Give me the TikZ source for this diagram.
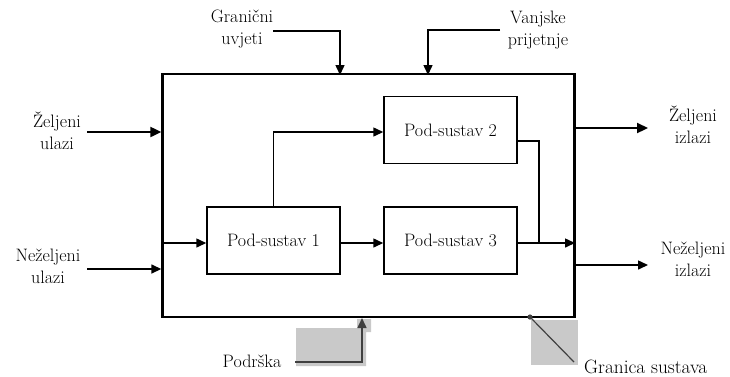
\documentclass[tikz,border=0pt]{standalone}
\usetikzlibrary{arrows.meta}
\begin{document}
\begin{tikzpicture}[x=1pt,y=-1pt,
  every node/.style={font=\fontsize{18}{22}\selectfont, inner sep=0pt},
  lbl/.style={align=center},
  subsys/.style={draw, line width=1.5pt, minimum width=133pt, minimum height=67pt},
  flow/.style={line width=1.5pt, -{Triangle[length=10pt,width=9pt]}},
  bigflow/.style={line width=2.2pt, -{Triangle[length=11pt,width=10pt]}},
  aux/.style={draw=black!75, line width=1.5pt},
  shade/.style={fill=black!21, draw=none}]
\useasboundingbox (0,0) rectangle (730,376);

% shaded backgrounds of the annotation arrows
\fill[shade] (296,328) -- (357,328) -- (357,319) -- (371,319) -- (371,332)
  -- (366,332) -- (366,366) -- (296,366) -- cycle;
\fill[shade] (531,320) rectangle (578,365);

% system boundary
\node[draw, line width=2.4pt, minimum width=412pt, minimum height=243pt] (sys) at (368.5,195.5) {};

% subsystems
\node[subsys] (p1) at (273.5,240.5) {Pod-sustav 1};
\node[subsys] (p2) at (450.5,130) {Pod-sustav 2};
\node[subsys] (p3) at (450.5,240.5) {Pod-sustav 3};

% labels
\node[lbl] (gu) at (242,29) {Granični\\uvjeti};
\node[lbl] (vp) at (538,30) {Vanjske\\prijetnje};
\node[lbl] (zu) at (57,131) {Željeni\\ulazi};
\node[lbl] (nu) at (48,266) {Neželjeni\\ulazi};
\node[lbl] (zi) at (693,125) {Željeni\\izlazi};
\node[lbl] (ni) at (693,259) {Neželjeni\\izlazi};
\node (po) at (252,361) {Podrška};
\node[anchor=west, font=\fontsize{19.3}{24}\selectfont] (gs) at (584,367) {Granica sustava};

% named points on the boundary and the bends
\coordinate (guS) at (273,31);
\coordinate (guT) at (340,75);
\coordinate (vpS) at (500,30);
\coordinate (vpT) at (428,75);
\coordinate (zuS) at (87,132);
\coordinate (nuS) at (87,269);
\coordinate (inL) at (163,243);
\coordinate (ziS) at (575,128);
\coordinate (ziT) at (648,128);
\coordinate (niS) at (575,265);
\coordinate (niT) at (648,265);
\coordinate (join) at (539,243);
\coordinate (outR) at (575,243);
\coordinate (poS) at (295,362);
\coordinate (poT) at (362,318);
\coordinate (gsD) at (530,317);
\coordinate (gsE) at (574,362);

% inputs from the environment
\draw[flow] (guS) -| (guT);
\draw[flow] (vpS) -| (vpT);
\draw[bigflow] (zuS) -- (zuS -| sys.west);
\draw[flow] (nuS) -- (nuS -| sys.west);

% internal flows
\draw[flow] (inL) -- (inL -| p1.west);
\draw[flow] (p1.east |- inL) -- (p3.west |- inL);
\draw[flow] (p1.north) |- (p2.west |- 0,132);
\draw[line width=1.5pt] (p2.east |- 0,141) -| (join);
\draw[flow] (p3.east |- inL) -- (outR);

% outputs
\draw[bigflow] (ziS) -- (ziT);
\draw[flow] (niS) -- (niT);

% support and boundary annotations
\draw[aux, -{Triangle[length=10pt,width=9pt]}] (poS) -| (poT);
\draw[aux, line width=1.2pt] (gsD) -- (gsE);
\fill[black!75] (gsD) circle (2.6pt);
\end{tikzpicture}
\end{document}
